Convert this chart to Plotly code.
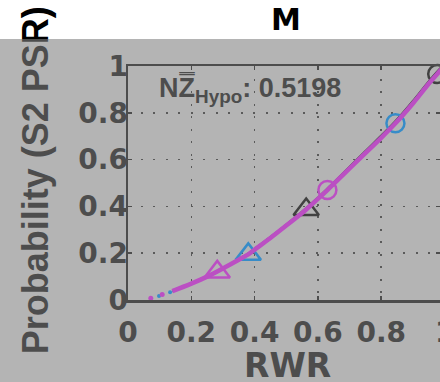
import plotly.graph_objects as go

# ---------------- data ----------------
rwr_curve = [0.14, 0.2, 0.25, 0.3, 0.35, 0.38, 0.4, 0.45, 0.5, 0.55, 0.563, 0.6,
             0.63, 0.65, 0.7, 0.75, 0.8, 0.845, 0.9, 0.95, 0.977, 1.0]
prob_magenta = [0.038, 0.070, 0.100, 0.135, 0.172, 0.195, 0.215, 0.265, 0.318, 0.372,
                0.387, 0.432, 0.470, 0.496, 0.562, 0.628, 0.693, 0.755, 0.840, 0.924,
                0.966, 1.000]
prob_blue = [0.038, 0.070, 0.100, 0.135, 0.173, 0.196, 0.216, 0.266, 0.319, 0.373,
             0.388, 0.433, 0.471, 0.497, 0.563, 0.630, 0.695, 0.757, 0.842, 0.926,
             0.968, 1.002]
prob_black = [0.039, 0.071, 0.101, 0.136, 0.174, 0.197, 0.217, 0.268, 0.321, 0.376,
              0.391, 0.436, 0.475, 0.501, 0.568, 0.635, 0.701, 0.763, 0.849, 0.933,
              0.975, 1.009]

magenta_dot_rwr = [0.072, 0.108]
magenta_dot_prob = [0.008, 0.024]
blue_dot_rwr = [0.098, 0.133]
blue_dot_prob = [0.017, 0.033]

circle_rwr = {"black": 0.977, "blue": 0.845, "magenta": 0.630}
circle_prob = {"black": 0.966, "blue": 0.755, "magenta": 0.470}
triangle_rwr = {"black": 0.563, "blue": 0.380, "magenta": 0.282}
triangle_prob = {"black": 0.387, "blue": 0.195, "magenta": 0.120}

x_ticks = [0, 0.2, 0.4, 0.6, 0.8]
x_ticktext = ["0", "0.2", "0.4", "0.6", "0.8"]
y_ticks = [0, 0.2, 0.4, 0.6, 0.8, 1.0]
y_ticktext = ["0", "0.2", "0.4", "0.6", "0.8", "1"]

title_text = "M"
x_title = "RWR"
y_title = "Probability (S2 PSR)"
stat_text = "NZ\u033f<sub>Hypo</sub>: 0.5198"

# ---------------- styling ----------------
W, H = 440, 382
L, R, T, B = 128, 0, 66, 82
PW, PH = W - L - R, H - T - B
X_UNIT = 316.5  # px per RWR unit

MAGENTA = "#bb4fc3"
BLUE = "#378cc8"
BLACK = "#414141"
AX = "#4d4d4d"
GRID = "#5a5a5a"
BG = "#b4b4b4"


def px_x(p):
    return (p - L) / PW


def px_y(p):
    return (H - B - p) / PH


fig = go.Figure()

# lines (black and blue slightly under magenta)
fig.add_trace(go.Scatter(x=rwr_curve, y=prob_black, mode="lines", line=dict(color=BLACK, width=2.5, shape="spline"),
                         hoverinfo="skip"))
fig.add_trace(go.Scatter(x=rwr_curve, y=prob_blue, mode="lines", line=dict(color=BLUE, width=2.5, shape="spline"),
                         hoverinfo="skip"))
fig.add_trace(go.Scatter(x=blue_dot_rwr, y=blue_dot_prob, mode="markers",
                         marker=dict(color=BLUE, size=4), hoverinfo="skip"))

for name, col in (("black", BLACK), ("blue", BLUE)):
    fig.add_trace(go.Scatter(x=[circle_rwr[name]], y=[circle_prob[name]], mode="markers",
                             marker=dict(symbol="circle-open", size=18, color=col, line=dict(width=2.5)),
                             cliponaxis=False, hoverinfo="skip"))
    fig.add_trace(go.Scatter(x=[triangle_rwr[name]], y=[triangle_prob[name]], mode="markers",
                             marker=dict(symbol="triangle-up-open", size=22, color=col, line=dict(width=2.5)),
                             hoverinfo="skip"))

fig.add_trace(go.Scatter(x=rwr_curve, y=prob_magenta, mode="lines", line=dict(color=MAGENTA, width=4.5, shape="spline"),
                         hoverinfo="skip"))
fig.add_trace(go.Scatter(x=magenta_dot_rwr, y=magenta_dot_prob, mode="markers",
                         marker=dict(color=MAGENTA, size=5), hoverinfo="skip"))
fig.add_trace(go.Scatter(x=[circle_rwr["magenta"]], y=[circle_prob["magenta"]], mode="markers",
                         marker=dict(symbol="circle-open", size=18, color=MAGENTA, line=dict(width=2.5)),
                         hoverinfo="skip"))
fig.add_trace(go.Scatter(x=[triangle_rwr["magenta"]], y=[triangle_prob["magenta"]], mode="markers",
                         marker=dict(symbol="triangle-up-open", size=22, color=MAGENTA, line=dict(width=2.5)),
                         hoverinfo="skip"))

# carrier for the y-axis label (drawn as the tick label of an overlaid axis)
fig.add_trace(go.Scatter(x=[], y=[], yaxis="y2", hoverinfo="skip"))

tickfont = dict(family="DejaVu Sans", size=28, color=AX, weight="bold")
common = dict(showgrid=True, gridcolor=GRID, gridwidth=1.5, griddash="2px,10.5px",
              showline=True, linecolor=AX, linewidth=2.5, mirror="ticks",
              ticks="inside", ticklen=4, tickwidth=1.5, tickcolor=AX,
              tickfont=tickfont, zeroline=False, automargin=False, fixedrange=True)

fig.update_layout(
    width=W, height=H,
    margin=dict(l=L, r=R, t=T, b=B, pad=0, autoexpand=False),
    paper_bgcolor="white", plot_bgcolor="rgba(0,0,0,0)",
    showlegend=False,
    xaxis=dict(range=[0, PW / X_UNIT], tickvals=x_ticks, ticktext=x_ticktext,
               ticklabelstandoff=6, **common),
    yaxis=dict(range=[0, 1], tickvals=y_ticks, ticktext=y_ticktext,
               ticklabelstandoff=-8, **common),
    yaxis2=dict(overlaying="y", anchor="x", side="left", range=[0, 1],
                tickvals=[0.489], ticktext=[y_title], tickangle=-90,
                tickfont=dict(family="Liberation Sans", size=36, color="black", weight="bold"),
                showgrid=False, showline=False, zeroline=False, ticks="",
                ticklabelstandoff=72, automargin=False, fixedrange=True),
)

# background: white band on top, gray below; semi-transparent veil over the y-label strip
STRIP = 68
TOP = 39
fig.add_shape(type="rect", xref="paper", yref="paper", layer="below",
              x0=px_x(STRIP), x1=px_x(W), y0=px_y(H), y1=px_y(TOP),
              fillcolor=BG, line=dict(width=0))
fig.add_shape(type="rect", xref="paper", yref="paper", layer="above",
              x0=px_x(0), x1=px_x(STRIP), y0=px_y(H), y1=px_y(TOP),
              fillcolor="rgba(129,129,129,0.596)", line=dict(width=0))

# title
fig.add_annotation(text=title_text, xref="paper", yref="paper",
                   x=px_x(285.6), y=px_y(19.7), xanchor="center", yanchor="middle",
                   showarrow=False, borderpad=0,
                   font=dict(family="DejaVu Sans", size=30, color="black", weight="bold"))
# x-axis title
fig.add_annotation(text=x_title, xref="paper", yref="paper",
                   x=px_x(287.5), y=px_y(365.4), xanchor="center", yanchor="middle",
                   showarrow=False, borderpad=0,
                   font=dict(family="DejaVu Sans", size=33, color=AX, weight="bold"))
# partially visible tick label "1" at the cropped right edge
fig.add_annotation(text="1", xref="paper", yref="paper",
                   x=px_x(L + X_UNIT * 1.0), y=px_y(332), xanchor="center", yanchor="middle",
                   showarrow=False, borderpad=0,
                   font=dict(family="DejaVu Sans", size=28, color=AX, weight="bold"))
# statistic annotation
fig.add_annotation(text=stat_text, xref="paper", yref="paper",
                   x=px_x(158), y=px_y(71), xanchor="left", yanchor="top",
                   showarrow=False, borderpad=0,
                   font=dict(family="Liberation Sans", size=27, color=AX, weight="bold"))

fig.write_html("out.html", config={"displayModeBar": False, "staticPlot": True},
               post_script="document.body.style.margin='0';document.body.style.overflow='hidden';")
